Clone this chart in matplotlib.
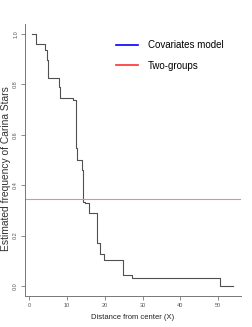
import matplotlib
matplotlib.use("Agg")
import matplotlib.pyplot as plt

plt.rcParams['font.family'] = ['Liberation Sans', 'DejaVu Sans']

# step curve (distance, estimated frequency)
dist = [0.8, 1.7, 4.3, 4.6, 4.9, 7.9, 8.2, 11.6, 12.3, 12.6, 13.9,
        14.3, 14.7, 15.8, 18.0, 18.8, 19.8, 24.9, 27.2, 50.5, 53.8]
freq = [1.0, 0.96, 0.936, 0.896, 0.824, 0.79, 0.745, 0.738, 0.547, 0.50, 0.46,
        0.335, 0.33, 0.289, 0.17, 0.128, 0.104, 0.045, 0.032, 0.0, 0.0]
two_groups = 0.345

xticks = [0, 10, 20, 30, 40, 50]
yticks = [0.0, 0.2, 0.4, 0.6, 0.8, 1.0]

fig = plt.figure(figsize=(2.53, 3.27), dpi=100)
ax = fig.add_axes([0.0976, 0.0948, 0.8534, 0.8318])

ax.step(dist, freq, where='post', color='#505050', lw=0.8)
ax.axhline(two_groups, color='#f08a8a', lw=0.8)

# legend handles only
ax.plot([], [], color='#0000ff', lw=1.2, label='Covariates model')
ax.plot([], [], color='#ff3030', lw=1.2, label='Two-groups')
ax.legend(loc='upper left', bbox_to_anchor=(116/253, 1 - 40/327),
          bbox_transform=fig.transFigure, frameon=False, fontsize=7,
          handlelength=2.3, handletextpad=1.0, labelspacing=1.1,
          borderpad=0, borderaxespad=0)

ax.set_xlim(-1.2, 55.9)
ax.set_ylim(-0.04, 1.04)
ax.set_xticks(xticks)
ax.set_xticklabels([str(t) for t in xticks])
ax.set_yticks(yticks)
ax.set_yticklabels(['%.1f' % t for t in yticks], rotation=90, va='center')

for s in ['top', 'right']:
    ax.spines[s].set_visible(False)
for s in ['left', 'bottom']:
    ax.spines[s].set_color('#777777')
    ax.spines[s].set_linewidth(0.7)
ax.tick_params(colors='#777777', labelcolor='#555555', labelsize=4,
               length=2.7, width=0.6, pad=2)

ax.set_xlabel('Distance from center (X)', fontsize=5.5, color='#222222', labelpad=5)
ax.set_ylabel('Estimated frequency of Carina Stars', fontsize=7.4,
              color='#333333', va='center')
ax.yaxis.set_label_coords(-0.087, 0.47)

fig.savefig('out.png', dpi=100)
